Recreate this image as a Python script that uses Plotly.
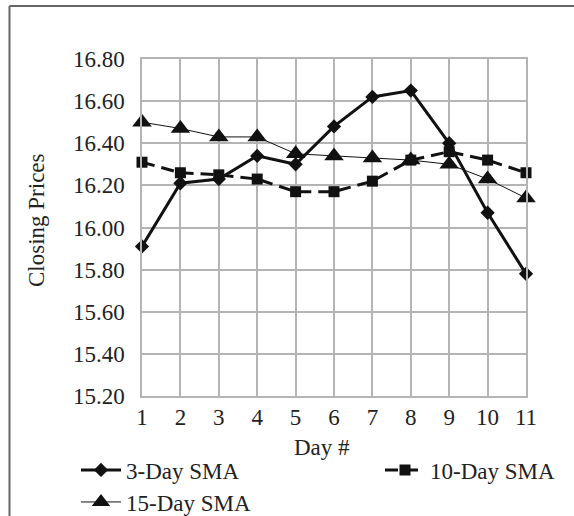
import plotly.graph_objects as go

days = [1, 2, 3, 4, 5, 6, 7, 8, 9, 10, 11]
sma3 = [15.91, 16.21, 16.23, 16.34, 16.30, 16.48, 16.62, 16.65, 16.40, 16.07, 15.78]
sma10 = [16.31, 16.26, 16.25, 16.23, 16.17, 16.17, 16.22, 16.32, 16.36, 16.32, 16.26]
sma15 = [16.50, 16.47, 16.43, 16.43, 16.35, 16.34, 16.33, 16.32, 16.30, 16.23, 16.14]
y_ticks = [15.2, 15.4, 15.6, 15.8, 16.0, 16.2, 16.4, 16.6, 16.8]
x_ticks = days

FONT = "Liberation Serif"
FS = 23
W, H = 574, 516
L, R, T, B = 142, 48, 59, 120
PW, PH = W - L - R, H - T - B


def px_x(p):
    return (p - L) / PW


def px_y(p):
    return (H - B - p) / PH


fig = go.Figure()
fig.add_trace(go.Scatter(
    x=days, y=sma15, name="15-Day SMA", mode="lines+markers",
    line=dict(color="#111", width=1),
    marker=dict(symbol="triangle-up", size=17, color="#111"),
    cliponaxis=False, legend="legend3"))
fig.add_trace(go.Scatter(
    x=days, y=sma10, name="10-Day SMA", mode="lines+markers",
    line=dict(color="#111", width=3, dash="13px,7px"),
    marker=dict(symbol="square", size=11, color="#111"),
    cliponaxis=False, legend="legend2"))
fig.add_trace(go.Scatter(
    x=days, y=sma3, name="3-Day SMA", mode="lines+markers",
    line=dict(color="#111", width=3),
    marker=dict(symbol="diamond", size=11, color="#111"),
    cliponaxis=False, legend="legend"))

grid = "#b4b4b6"
fig.update_xaxes(range=[1, 11], tickvals=x_ticks, ticktext=[str(v) for v in x_ticks],
                 showgrid=True, gridcolor=grid, gridwidth=1.5, zeroline=False,
                 showline=True, linecolor=grid, linewidth=1.5, mirror=True,
                 ticks="", ticklabelstandoff=0, automargin=False,
                 tickfont=dict(family=FONT, size=FS, color="#222"))
fig.update_yaxes(range=[15.2, 16.8], tickvals=y_ticks,
                 ticktext=[f"{v:.2f}" for v in y_ticks],
                 showgrid=True, gridcolor=grid, gridwidth=1.5, zeroline=False,
                 showline=True, linecolor=grid, linewidth=1.5, mirror=True,
                 ticks="", ticklabelstandoff=11, automargin=False,
                 tickfont=dict(family=FONT, size=FS, color="#222"))

leg_common = dict(orientation="v", font=dict(family=FONT, size=FS, color="#222"),
                  bgcolor="rgba(0,0,0,0)", borderwidth=0, yanchor="middle",
                  xanchor="left", itemwidth=40)
fig.update_layout(
    width=W, height=H,
    margin=dict(l=L, r=R, t=T, b=B, autoexpand=False),
    paper_bgcolor="white", plot_bgcolor="white",
    showlegend=True,
    legend=dict(x=px_x(76), y=px_y(470), **leg_common),
    legend2=dict(x=px_x(380), y=px_y(470), **leg_common),
    legend3=dict(x=px_x(76), y=px_y(502), **leg_common),
    annotations=[
        dict(text="Day #", x=px_x(322), y=px_y(447), xref="paper", yref="paper",
             xanchor="center", yanchor="middle",
             showarrow=False, font=dict(family=FONT, size=FS, color="#222")),
        dict(text="Closing Prices", x=px_x(37), y=px_y(220), xref="paper", yref="paper",
             xanchor="center", yanchor="middle",
             showarrow=False, textangle=-90, font=dict(family=FONT, size=FS, color="#222")),
    ],
    shapes=[
        dict(type="line", xref="paper", yref="paper", x0=px_x(9.5), x1=px_x(580),
             y0=px_y(6), y1=px_y(6), line=dict(color="#666", width=2)),
        dict(type="line", xref="paper", yref="paper", x0=px_x(9.5), x1=px_x(9.5),
             y0=px_y(6), y1=px_y(520), line=dict(color="#666", width=2)),
    ],
)

fig.write_html("out.html")
